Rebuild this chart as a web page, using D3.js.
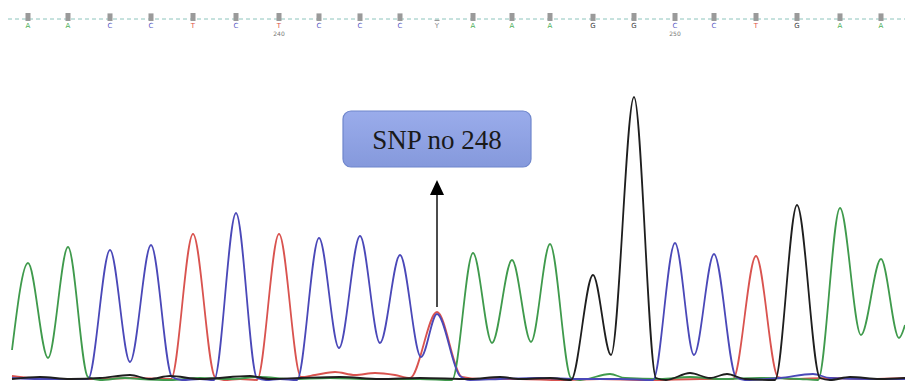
<!DOCTYPE html>
<html>
<head>
<meta charset="utf-8">
<script src="https://cdn.jsdelivr.net/npm/d3@7"></script>
<style>
  html, body { margin: 0; padding: 0; background: #fff; }
  #chart { width: 905px; height: 383px; }
</style>
</head>
<body>
<div id="chart"></div>
<script>
// base calls across the top strip
const bases = ["A","A","C","C","T","C","T","C","C","C","Y","A","A","A","G","G","C","C","T","G","A","A"];
const basePos = [28, 68, 110, 151, 193, 236, 279, 319, 360, 400, 437, 473, 512, 550, 593, 634, 675, 714, 756, 797, 840, 881];
const baseQuality = [40, 40, 38, 38, 40, 40, 40, 38, 38, 38, 6, 40, 40, 40, 36, 40, 40, 40, 40, 40, 38, 38];
const firstBaseNumber = 234;
const positionTicks = [240, 250];

// trace key points [scan, signal] for each dye channel
const traceA = [[12,30],[28,117],[48,22],[68,133],[88,3],[100,0],[125,2],[140,1],[170,0],[200,2],[230,1],[260,3],[290,1],[330,2],[370,1],[420,1],[452,0],[473,127],[492,37],[512,120],[531,38],[550,136],[571,2],[580,0],[610,6],[625,2],[660,1],[690,3],[720,1],[760,2],[800,1],[818,0],[840,172],[861,45],[881,121],[899,42],[905,55]];
const traceC = [[12,2],[40,1],[70,1],[88,1],[110,130],[130,18],[151,135],[172,3],[182,0],[200,1],[214,0],[236,167],[257,2],[266,0],[280,1],[297,0],[319,142],[339,32],[360,144],[380,37],[400,125],[421,23],[437,66],[460,4],[470,0],[500,1],[540,2],[580,1],[620,1],[653,0],[675,137],[694,25],[714,126],[736,3],[745,0],[780,2],[813,6],[830,2],[870,1],[905,1]];
const traceG = [[12,1],[40,3],[70,1],[100,2],[130,5],[150,1],[170,4],[200,1],[250,4],[270,1],[300,2],[340,3],[380,1],[420,2],[470,1],[500,3],[520,1],[550,2],[571,0],[593,105],[611,25],[634,283],[656,2],[666,0],[690,7],[710,2],[727,6],[745,1],[775,0],[797,175],[820,2],[830,0],[850,3],[880,1],[905,2]];
const traceT = [[12,4],[30,2],[60,1],[100,1],[130,2],[171,1],[193,146],[215,3],[224,0],[240,1],[257,0],[279,146],[301,3],[315,5],[335,8],[355,5],[375,7],[395,5],[410,2],[437,68],[462,3],[480,1],[520,1],[560,0],[600,1],[650,0],[700,1],[733,1],[756,124],[778,3],[790,1],[830,2],[870,1],[905,2]];

const channels = [
    { key: "T", color: "#d9534f", points: traceT },
    { key: "A", color: "#3f9a4c", points: traceA },
    { key: "C", color: "#4a48b8", points: traceC },
    { key: "G", color: "#1e1e1e", points: traceG }
];
const baseColor = { A: "#4caf5a", C: "#5a58c4", G: "#3a3a3a", T: "#e0504a", Y: "#8a8a8a" };

const width = 905;
const height = 383;

const svg = d3.select("#chart")
    .append("svg")
    .attr("width", width)
    .attr("height", height)
    .attr("viewBox", `0 0 ${width} ${height}`);

const x = d3.scaleLinear().domain([0, 905]).range([0, 905]);
const y = d3.scaleLinear().domain([0, 300]).range([380, 80]);

// top strip: dashed guide, quality bars, base letters
const qh = d3.scaleLinear().domain([0, 40]).range([0, 8]);
svg.append("line")
    .attr("x1", 8).attr("x2", width)
    .attr("y1", 19).attr("y2", 19)
    .attr("stroke", "#8cc4bc")
    .attr("stroke-width", 1)
    .attr("stroke-dasharray", "4,3");

svg.selectAll("rect.qual")
    .data(bases)
    .enter()
    .append("rect")
    .attr("class", "qual")
    .attr("x", (d, i) => x(basePos[i]) - 2.5)
    .attr("y", (d, i) => 21 - qh(baseQuality[i]))
    .attr("width", 5)
    .attr("height", (d, i) => qh(baseQuality[i]))
    .attr("fill", "#9a9a9a");

svg.selectAll("text.base")
    .data(bases)
    .enter()
    .append("text")
    .attr("class", "base")
    .attr("x", (d, i) => x(basePos[i]))
    .attr("y", 28)
    .attr("text-anchor", "middle")
    .attr("font-family", "DejaVu Sans, sans-serif")
    .attr("font-size", 7)
    .attr("fill", d => baseColor[d])
    .text(d => d);

svg.selectAll("text.pos")
    .data(positionTicks)
    .enter()
    .append("text")
    .attr("class", "pos")
    .attr("x", d => x(basePos[d - firstBaseNumber]))
    .attr("y", 36)
    .attr("text-anchor", "middle")
    .attr("font-family", "DejaVu Sans, sans-serif")
    .attr("font-size", 6)
    .attr("fill", "#777")
    .text(d => d);

// traces
const line = d3.line()
    .x(d => x(d[0]))
    .y(d => y(d[1]))
    .curve(d3.curveMonotoneX);

svg.selectAll("path.trace")
    .data(channels)
    .enter()
    .append("path")
    .attr("class", "trace")
    .attr("d", d => line(d.points))
    .attr("fill", "none")
    .attr("stroke", d => d.color)
    .attr("stroke-width", 1.8)
    .attr("stroke-linejoin", "round");

// annotation: arrow + callout box
const snpX = x(basePos[bases.indexOf("Y")]);
svg.append("line")
    .attr("x1", snpX).attr("x2", snpX)
    .attr("y1", 307).attr("y2", 194)
    .attr("stroke", "#111")
    .attr("stroke-width", 1.5);
svg.append("path")
    .attr("d", `M${snpX},180 L${snpX - 7},195 L${snpX + 7},195 Z`)
    .attr("fill", "#000");

const defs = svg.append("defs");
const grad = defs.append("linearGradient")
    .attr("id", "boxFill")
    .attr("x1", 0).attr("y1", 0).attr("x2", 0).attr("y2", 1);
grad.append("stop").attr("offset", "0%").attr("stop-color", "#9aaceb");
grad.append("stop").attr("offset", "100%").attr("stop-color", "#8599dc");

svg.append("rect")
    .attr("x", 343).attr("y", 111)
    .attr("width", 188).attr("height", 56)
    .attr("rx", 8).attr("ry", 8)
    .attr("fill", "url(#boxFill)")
    .attr("stroke", "#6f86cc")
    .attr("stroke-width", 1.2);

svg.append("text")
    .attr("x", 437)
    .attr("y", 149)
    .attr("text-anchor", "middle")
    .attr("font-family", "Liberation Serif, Times New Roman, serif")
    .attr("font-size", 27)
    .attr("fill", "#1a1a1a")
    .text("SNP no 248");
</script>
</body>
</html>
